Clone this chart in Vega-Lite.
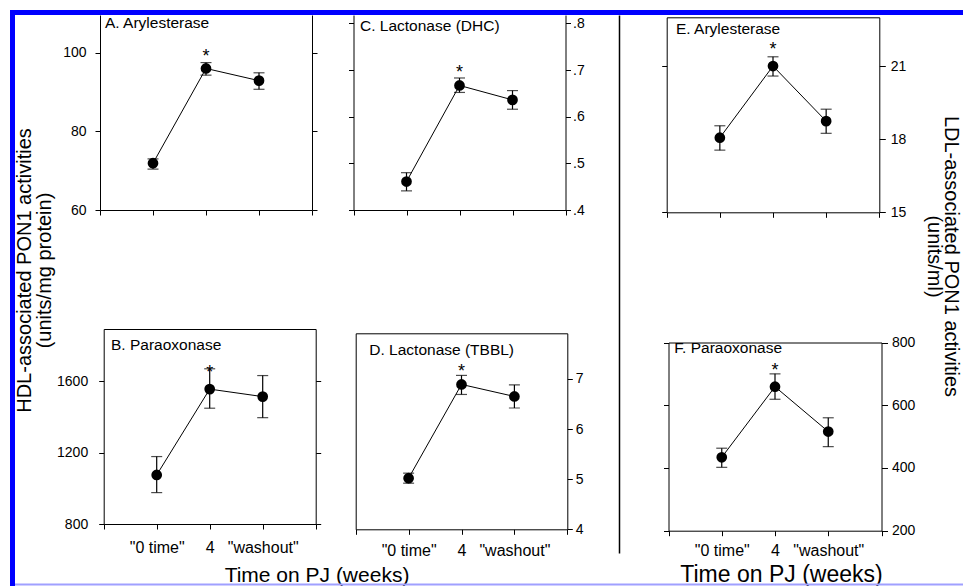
{
  "$schema": "https://vega.github.io/schema/vega-lite/v6.json",
  "width": 963,
  "height": 586,
  "padding": 0,
  "autosize": {"type": "none"},
  "background": "white",
  "config": {
    "font": "Liberation Sans",
    "view": {"stroke": null},
    "axis": {"grid": false, "domainColor": "black", "tickColor": "black", "labelColor": "black", "titleColor": "black", "titleFontWeight": "normal", "labelFontSize": 14, "tickSize": 5, "labelFlush": false, "labelOverlap": false, "domainWidth": 1, "tickWidth": 1},
    "text": {"color": "black"}
  },
  "data": {"values": [
    {"panel": "A", "t": 1, "mean": 71.9, "lo": 70.4, "hi": 73.0},
    {"panel": "A", "t": 2, "mean": 96.0, "lo": 94.3, "hi": 97.5, "star": 100.2},
    {"panel": "A", "t": 3, "mean": 92.9, "lo": 90.7, "hi": 94.9},
    {"panel": "B", "t": 1, "mean": 1075, "lo": 976, "hi": 1178},
    {"panel": "B", "t": 2, "mean": 1556, "lo": 1449, "hi": 1670, "star": 1677},
    {"panel": "B", "t": 3, "mean": 1514, "lo": 1396, "hi": 1632},
    {"panel": "C", "t": 1, "mean": 0.461, "lo": 0.441, "hi": 0.480},
    {"panel": "C", "t": 2, "mean": 0.667, "lo": 0.652, "hi": 0.683, "star": 0.704},
    {"panel": "C", "t": 3, "mean": 0.636, "lo": 0.616, "hi": 0.656},
    {"panel": "D", "t": 1, "mean": 5.02, "lo": 4.92, "hi": 5.12},
    {"panel": "D", "t": 2, "mean": 6.89, "lo": 6.69, "hi": 7.07, "star": 7.23},
    {"panel": "D", "t": 3, "mean": 6.65, "lo": 6.42, "hi": 6.88},
    {"panel": "E", "t": 1, "mean": 18.06, "lo": 17.55, "hi": 18.55},
    {"panel": "E", "t": 2, "mean": 21.0, "lo": 20.59, "hi": 21.38, "star": 21.86},
    {"panel": "E", "t": 3, "mean": 18.74, "lo": 18.24, "hi": 19.23},
    {"panel": "F", "t": 1, "mean": 434, "lo": 402, "hi": 463},
    {"panel": "F", "t": 2, "mean": 659, "lo": 619, "hi": 700, "star": 725},
    {"panel": "F", "t": 3, "mean": 516, "lo": 468, "hi": 560}
  ]},
  "layer": [
    {
      "transform": [{"filter": "datum.panel === 'A' && datum.t === 1"}],
      "mark": {"type": "point", "opacity": 0},
      "encoding": {
        "x": {"datum": 0, "type": "quantitative", "scale": {"domain": [0, 1], "range": [9.5, 963], "nice": false, "zero": false}, "axis": {"orient": "top", "offset": -12, "domainColor": "#0000ff", "domainWidth": 5, "ticks": false, "labels": false, "title": null, "zindex": 2}},
        "y": {"datum": 0, "type": "quantitative", "scale": {"domain": [0, 1], "range": [586, 9.5], "nice": false, "zero": false}, "axis": {"orient": "left", "offset": -12, "domainColor": "#0000ff", "domainWidth": 5, "ticks": false, "labels": false, "title": null, "zindex": 2}}
      }
    },
    {
      "transform": [{"filter": "datum.panel === 'A' && datum.t === 1"}],
      "mark": {"type": "point", "opacity": 0},
      "encoding": {
        "x": {"datum": 0, "type": "quantitative", "scale": {"domain": [0, 1], "range": [12, 963], "nice": false, "zero": false}, "axis": {"orient": "bottom", "offset": -2, "domainColor": "#a0a0ff", "domainWidth": 2, "ticks": false, "labels": false, "title": null, "zindex": 2}},
        "y": {"datum": 0, "type": "quantitative", "scale": {"domain": [0, 1], "range": [553, 15], "nice": false, "zero": false}, "axis": {"orient": "left", "offset": -619, "domainColor": "black", "domainWidth": 1.5, "ticks": false, "labels": false, "title": null}}
      }
    },

    {
      "transform": [{"filter": "datum.panel === 'A'"}],
      "mark": {"type": "line", "color": "black", "strokeWidth": 1, "point": {"filled": true, "size": 115, "color": "black", "opacity": 1}},
      "encoding": {
        "x": {"field": "t", "type": "quantitative", "scale": {"domain": [0, 4], "range": [100, 312], "nice": false, "zero": false}, "axis": {"orient": "bottom", "offset": -376, "values": [0, 1, 2, 3, 4], "labels": false, "title": null}},
        "y": {"field": "mean", "type": "quantitative", "scale": {"domain": [60, 109.6], "range": [210, 15], "nice": false, "zero": false}, "axis": {"orient": "left", "offset": -100, "values": [60, 80, 100], "format": "d", "labelPadding": 9, "title": ["HDL-associated PON1 activities", "(units/mg protein)"], "titleX": -70, "titleY": 270, "titleAngle": 270, "titleBaseline": "alphabetic", "titleAlign": "center", "titleFontSize": 20, "titleLineHeight": 20}}
      }
    },
    {
      "transform": [{"filter": "datum.panel === 'A'"}],
      "mark": {"type": "errorbar", "color": "black", "ticks": {"size": 11, "thickness": 1.2, "color": "black"}, "rule": {"strokeWidth": 1.2, "color": "black"}},
      "encoding": {
        "x": {"field": "t", "type": "quantitative", "scale": {"domain": [0, 4], "range": [100, 312], "nice": false, "zero": false}, "axis": null},
        "y": {"field": "lo", "type": "quantitative", "scale": {"domain": [60, 109.6], "range": [210, 15], "nice": false, "zero": false}, "axis": null},
        "y2": {"field": "hi"}
      }
    },
    {
      "transform": [{"filter": "datum.panel === 'A' && isValid(datum.star)"}],
      "mark": {"type": "text", "fontSize": 18, "baseline": "alphabetic", "align": "center", "dy": 10},
      "encoding": {
        "x": {"field": "t", "type": "quantitative", "scale": {"domain": [0, 4], "range": [100, 312], "nice": false, "zero": false}, "axis": null},
        "y": {"field": "star", "type": "quantitative", "scale": {"domain": [60, 109.6], "range": [210, 15], "nice": false, "zero": false}, "axis": null},
        "text": {"value": "*"}
      }
    },
    {
      "transform": [{"filter": "datum.panel === 'A' && datum.t === 1"}],
      "mark": {"type": "text", "fontSize": 15.5, "baseline": "alphabetic", "align": "left"},
      "encoding": {
        "x": {"datum": 0.094, "type": "quantitative", "scale": {"domain": [0, 4], "range": [100, 312], "nice": false, "zero": false}, "axis": null},
        "y": {"datum": 106.4, "type": "quantitative", "scale": {"domain": [60, 109.6], "range": [210, 15], "nice": false, "zero": false}, "axis": {"orient": "right", "offset": -651, "values": [60, 80, 100], "labels": false, "title": null}},
        "text": {"value": "A. Arylesterase"}
      }
    },

    {
      "transform": [{"filter": "datum.panel === 'B'"}],
      "mark": {"type": "line", "color": "black", "strokeWidth": 1, "point": {"filled": true, "size": 115, "color": "black", "opacity": 1}},
      "encoding": {
        "x": {"field": "t", "type": "quantitative", "scale": {"domain": [0, 4], "range": [103.7, 315.7], "nice": false, "zero": false}, "axis": {"orient": "bottom", "offset": -62, "values": [0, 1, 2, 3, 4], "labelExpr": "datum.value === 1 ? '\"0 time\"' : datum.value === 2 ? '4' : datum.value === 3 ? '\"washout\"' : ''", "labelFontSize": 16, "labelPadding": 10, "title": "Time on PJ (weeks)", "titleX": 316.5, "titleY": 57, "titleAngle": 0, "titleBaseline": "alphabetic", "titleAlign": "center", "titleFontSize": 21}},
        "y": {"field": "mean", "type": "quantitative", "scale": {"domain": [800, 1893], "range": [524, 329], "nice": false, "zero": false}, "axis": {"orient": "left", "offset": -103.7, "values": [800, 1200, 1600], "format": "d", "labelPadding": 11, "title": null}}
      }
    },
    {
      "transform": [{"filter": "datum.panel === 'B'"}],
      "mark": {"type": "errorbar", "color": "black", "ticks": {"size": 11, "thickness": 1.2, "color": "black"}, "rule": {"strokeWidth": 1.2, "color": "black"}},
      "encoding": {
        "x": {"field": "t", "type": "quantitative", "scale": {"domain": [0, 4], "range": [103.7, 315.7], "nice": false, "zero": false}, "axis": null},
        "y": {"field": "lo", "type": "quantitative", "scale": {"domain": [800, 1893], "range": [524, 329], "nice": false, "zero": false}, "axis": null},
        "y2": {"field": "hi"}
      }
    },
    {
      "transform": [{"filter": "datum.panel === 'B' && isValid(datum.star)"}],
      "mark": {"type": "text", "fontSize": 18, "baseline": "alphabetic", "align": "center", "dy": 10},
      "encoding": {
        "x": {"field": "t", "type": "quantitative", "scale": {"domain": [0, 4], "range": [103.7, 315.7], "nice": false, "zero": false}, "axis": null},
        "y": {"field": "star", "type": "quantitative", "scale": {"domain": [800, 1893], "range": [524, 329], "nice": false, "zero": false}, "axis": null},
        "text": {"value": "*"}
      }
    },
    {
      "transform": [{"filter": "datum.panel === 'B' && datum.t === 1"}],
      "mark": {"type": "text", "fontSize": 15.5, "baseline": "alphabetic", "align": "left"},
      "encoding": {
        "x": {"datum": 0.138, "type": "quantitative", "scale": {"domain": [0, 4], "range": [103.7, 315.7], "nice": false, "zero": false}, "axis": {"orient": "top", "offset": -329, "ticks": false, "labels": false, "title": null}},
        "y": {"datum": 1775, "type": "quantitative", "scale": {"domain": [800, 1893], "range": [524, 329], "nice": false, "zero": false}, "axis": {"orient": "right", "offset": -647.3, "values": [800, 1200, 1600], "labels": false, "title": null}},
        "text": {"value": "B. Paraoxonase"}
      }
    },

    {
      "transform": [{"filter": "datum.panel === 'C'"}],
      "mark": {"type": "line", "color": "black", "strokeWidth": 1, "point": {"filled": true, "size": 115, "color": "black", "opacity": 1}},
      "encoding": {
        "x": {"field": "t", "type": "quantitative", "scale": {"domain": [0, 4], "range": [353.5, 565.5], "nice": false, "zero": false}, "axis": {"orient": "bottom", "offset": -376, "values": [0, 1, 2, 3, 4], "labels": false, "title": null}},
        "y": {"field": "mean", "type": "quantitative", "scale": {"domain": [0.4, 0.818], "range": [210, 15], "nice": false, "zero": false}, "axis": {"orient": "left", "offset": -353.5, "values": [0.4, 0.5, 0.6, 0.7, 0.8], "labels": false, "title": null}}
      }
    },
    {
      "transform": [{"filter": "datum.panel === 'C'"}],
      "mark": {"type": "errorbar", "color": "black", "ticks": {"size": 11, "thickness": 1.2, "color": "black"}, "rule": {"strokeWidth": 1.2, "color": "black"}},
      "encoding": {
        "x": {"field": "t", "type": "quantitative", "scale": {"domain": [0, 4], "range": [353.5, 565.5], "nice": false, "zero": false}, "axis": null},
        "y": {"field": "lo", "type": "quantitative", "scale": {"domain": [0.4, 0.818], "range": [210, 15], "nice": false, "zero": false}, "axis": null},
        "y2": {"field": "hi"}
      }
    },
    {
      "transform": [{"filter": "datum.panel === 'C' && isValid(datum.star)"}],
      "mark": {"type": "text", "fontSize": 18, "baseline": "alphabetic", "align": "center", "dy": 10},
      "encoding": {
        "x": {"field": "t", "type": "quantitative", "scale": {"domain": [0, 4], "range": [353.5, 565.5], "nice": false, "zero": false}, "axis": null},
        "y": {"field": "star", "type": "quantitative", "scale": {"domain": [0.4, 0.818], "range": [210, 15], "nice": false, "zero": false}, "axis": null},
        "text": {"value": "*"}
      }
    },
    {
      "transform": [{"filter": "datum.panel === 'C' && datum.t === 1"}],
      "mark": {"type": "text", "fontSize": 15.5, "baseline": "alphabetic", "align": "left"},
      "encoding": {
        "x": {"datum": 0.123, "type": "quantitative", "scale": {"domain": [0, 4], "range": [353.5, 565.5], "nice": false, "zero": false}, "axis": null},
        "y": {"datum": 0.7837, "type": "quantitative", "scale": {"domain": [0.4, 0.818], "range": [210, 15], "nice": false, "zero": false}, "axis": {"orient": "right", "offset": -397.5, "values": [0.4, 0.5, 0.6, 0.7, 0.8], "labelExpr": "replace(format(datum.value, '.1f'), '0.', '.')", "labelPadding": 2, "title": null}},
        "text": {"value": "C. Lactonase (DHC)"}
      }
    },

    {
      "transform": [{"filter": "datum.panel === 'D'"}],
      "mark": {"type": "line", "color": "black", "strokeWidth": 1, "point": {"filled": true, "size": 115, "color": "black", "opacity": 1}},
      "encoding": {
        "x": {"field": "t", "type": "quantitative", "scale": {"domain": [0, 4], "range": [355.7, 567.3], "nice": false, "zero": false}, "axis": {"orient": "bottom", "offset": -56.7, "values": [0, 1, 2, 3, 4], "labelExpr": "datum.value === 1 ? '\"0 time\"' : datum.value === 2 ? '4' : datum.value === 3 ? '\"washout\"' : ''", "labelFontSize": 16, "labelPadding": 8, "title": null}},
        "y": {"field": "mean", "type": "quantitative", "scale": {"domain": [4, 7.91], "range": [529.3, 333.3], "nice": false, "zero": false}, "axis": {"orient": "left", "offset": -355.7, "ticks": false, "labels": false, "title": null}}
      }
    },
    {
      "transform": [{"filter": "datum.panel === 'D'"}],
      "mark": {"type": "errorbar", "color": "black", "ticks": {"size": 11, "thickness": 1.2, "color": "black"}, "rule": {"strokeWidth": 1.2, "color": "black"}},
      "encoding": {
        "x": {"field": "t", "type": "quantitative", "scale": {"domain": [0, 4], "range": [355.7, 567.3], "nice": false, "zero": false}, "axis": null},
        "y": {"field": "lo", "type": "quantitative", "scale": {"domain": [4, 7.91], "range": [529.3, 333.3], "nice": false, "zero": false}, "axis": null},
        "y2": {"field": "hi"}
      }
    },
    {
      "transform": [{"filter": "datum.panel === 'D' && isValid(datum.star)"}],
      "mark": {"type": "text", "fontSize": 18, "baseline": "alphabetic", "align": "center", "dy": 10},
      "encoding": {
        "x": {"field": "t", "type": "quantitative", "scale": {"domain": [0, 4], "range": [355.7, 567.3], "nice": false, "zero": false}, "axis": null},
        "y": {"field": "star", "type": "quantitative", "scale": {"domain": [4, 7.91], "range": [529.3, 333.3], "nice": false, "zero": false}, "axis": null},
        "text": {"value": "*"}
      }
    },
    {
      "transform": [{"filter": "datum.panel === 'D' && datum.t === 1"}],
      "mark": {"type": "text", "fontSize": 15.5, "baseline": "alphabetic", "align": "left"},
      "encoding": {
        "x": {"datum": 0.257, "type": "quantitative", "scale": {"domain": [0, 4], "range": [355.7, 567.3], "nice": false, "zero": false}, "axis": {"orient": "top", "offset": -333.3, "ticks": false, "labels": false, "title": null}},
        "y": {"datum": 7.477, "type": "quantitative", "scale": {"domain": [4, 7.91], "range": [529.3, 333.3], "nice": false, "zero": false}, "axis": {"orient": "right", "offset": -395.7, "values": [4, 5, 6, 7], "format": "d", "labelPadding": 3, "title": null}},
        "text": {"value": "D. Lactonase (TBBL)"}
      }
    },

    {
      "transform": [{"filter": "datum.panel === 'E'"}],
      "mark": {"type": "line", "color": "black", "strokeWidth": 1, "point": {"filled": true, "size": 115, "color": "black", "opacity": 1}},
      "encoding": {
        "x": {"field": "t", "type": "quantitative", "scale": {"domain": [0, 4], "range": [666.7, 879.3], "nice": false, "zero": false}, "axis": {"orient": "bottom", "offset": -373.7, "values": [0, 1, 2, 3, 4], "labels": false, "title": null}},
        "y": {"field": "mean", "type": "quantitative", "scale": {"domain": [15, 23], "range": [212.3, 17.3], "nice": false, "zero": false}, "axis": {"orient": "left", "offset": -666.7, "values": [15, 21], "labels": false, "title": null}}
      }
    },
    {
      "transform": [{"filter": "datum.panel === 'E'"}],
      "mark": {"type": "errorbar", "color": "black", "ticks": {"size": 11, "thickness": 1.2, "color": "black"}, "rule": {"strokeWidth": 1.2, "color": "black"}},
      "encoding": {
        "x": {"field": "t", "type": "quantitative", "scale": {"domain": [0, 4], "range": [666.7, 879.3], "nice": false, "zero": false}, "axis": null},
        "y": {"field": "lo", "type": "quantitative", "scale": {"domain": [15, 23], "range": [212.3, 17.3], "nice": false, "zero": false}, "axis": null},
        "y2": {"field": "hi"}
      }
    },
    {
      "transform": [{"filter": "datum.panel === 'E' && isValid(datum.star)"}],
      "mark": {"type": "text", "fontSize": 18, "baseline": "alphabetic", "align": "center", "dy": 10},
      "encoding": {
        "x": {"field": "t", "type": "quantitative", "scale": {"domain": [0, 4], "range": [666.7, 879.3], "nice": false, "zero": false}, "axis": null},
        "y": {"field": "star", "type": "quantitative", "scale": {"domain": [15, 23], "range": [212.3, 17.3], "nice": false, "zero": false}, "axis": null},
        "text": {"value": "*"}
      }
    },
    {
      "transform": [{"filter": "datum.panel === 'E' && datum.t === 1"}],
      "mark": {"type": "text", "fontSize": 15.5, "baseline": "alphabetic", "align": "left"},
      "encoding": {
        "x": {"datum": 0.175, "type": "quantitative", "scale": {"domain": [0, 4], "range": [666.7, 879.3], "nice": false, "zero": false}, "axis": {"orient": "top", "offset": -17.3, "ticks": false, "labels": false, "title": null}},
        "y": {"datum": 22.31, "type": "quantitative", "scale": {"domain": [15, 23], "range": [212.3, 17.3], "nice": false, "zero": false}, "axis": {"orient": "right", "offset": -83.7, "values": [15, 18, 21], "format": "d", "tickSize": 6, "labelPadding": 5, "title": ["LDL-associated PON1 activities", "(units/ml)"], "titleX": 65, "titleY": 256, "titleAngle": 90, "titleBaseline": "alphabetic", "titleAlign": "center", "titleFontSize": 20, "titleLineHeight": 17}},
        "text": {"value": "E. Arylesterase"}
      }
    },

    {
      "transform": [{"filter": "datum.panel === 'F'"}],
      "mark": {"type": "line", "color": "black", "strokeWidth": 1, "point": {"filled": true, "size": 115, "color": "black", "opacity": 1}},
      "encoding": {
        "x": {"field": "t", "type": "quantitative", "scale": {"domain": [0, 4], "range": [668.5, 881.5], "nice": false, "zero": false}, "axis": {"orient": "bottom", "offset": -55.3, "values": [0, 1, 2, 3, 4], "labelExpr": "datum.value === 1 ? '\"0 time\"' : datum.value === 2 ? '4' : datum.value === 3 ? '\"washout\"' : ''", "labelFontSize": 16, "labelPadding": 7, "title": "Time on PJ (weeks)", "titleX": 781, "titleY": 50.3, "titleAngle": 0, "titleBaseline": "alphabetic", "titleAlign": "center", "titleFontSize": 23}},
        "y": {"field": "mean", "type": "quantitative", "scale": {"domain": [200, 800], "range": [530.7, 342.5], "nice": false, "zero": false}, "axis": {"orient": "left", "offset": -668.5, "values": [200, 400, 600, 800], "labels": false, "title": null}}
      }
    },
    {
      "transform": [{"filter": "datum.panel === 'F'"}],
      "mark": {"type": "errorbar", "color": "black", "ticks": {"size": 11, "thickness": 1.2, "color": "black"}, "rule": {"strokeWidth": 1.2, "color": "black"}},
      "encoding": {
        "x": {"field": "t", "type": "quantitative", "scale": {"domain": [0, 4], "range": [668.5, 881.5], "nice": false, "zero": false}, "axis": null},
        "y": {"field": "lo", "type": "quantitative", "scale": {"domain": [200, 800], "range": [530.7, 342.5], "nice": false, "zero": false}, "axis": null},
        "y2": {"field": "hi"}
      }
    },
    {
      "transform": [{"filter": "datum.panel === 'F' && isValid(datum.star)"}],
      "mark": {"type": "text", "fontSize": 18, "baseline": "alphabetic", "align": "center", "dy": 10},
      "encoding": {
        "x": {"field": "t", "type": "quantitative", "scale": {"domain": [0, 4], "range": [668.5, 881.5], "nice": false, "zero": false}, "axis": null},
        "y": {"field": "star", "type": "quantitative", "scale": {"domain": [200, 800], "range": [530.7, 342.5], "nice": false, "zero": false}, "axis": null},
        "text": {"value": "*"}
      }
    },
    {
      "transform": [{"filter": "datum.panel === 'F' && datum.t === 1"}],
      "mark": {"type": "text", "fontSize": 15.5, "baseline": "alphabetic", "align": "left"},
      "encoding": {
        "x": {"datum": 0.109, "type": "quantitative", "scale": {"domain": [0, 4], "range": [668.5, 881.5], "nice": false, "zero": false}, "axis": {"orient": "top", "offset": -342.5, "ticks": false, "labels": false, "title": null}},
        "y": {"datum": 767, "type": "quantitative", "scale": {"domain": [200, 800], "range": [530.7, 342.5], "nice": false, "zero": false}, "axis": {"orient": "right", "offset": -81.5, "values": [200, 400, 600, 800], "format": "d", "tickSize": 6, "labelPadding": 4, "title": null}},
        "text": {"value": "F. Paraoxonase"}
      }
    }
  ],
  "resolve": {"scale": {"x": "independent", "y": "independent"}, "axis": {"x": "independent", "y": "independent"}}
}
